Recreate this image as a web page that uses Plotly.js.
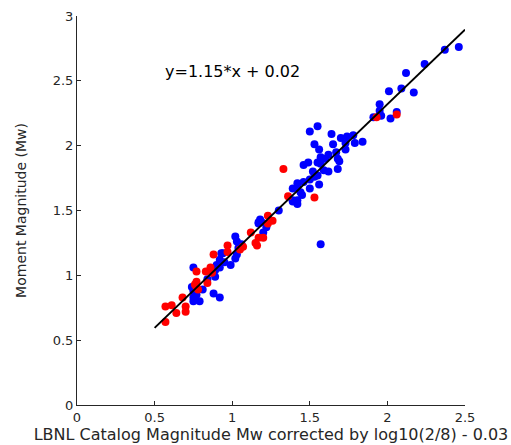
<!DOCTYPE html>
<html>
<head>
<meta charset="utf-8">
<script src="https://cdn.plot.ly/plotly-3.0.1.min.js"></script>
<style>html,body{margin:0;padding:0;background:#fff;}#chart{width:511px;height:445px;}</style>
</head>
<body>
<div id="chart"></div>
<script>
// Blue series
const blueX = [2.46,2.37,2.24,2.12,2.01,2.09,2.17,1.95,1.95,1.91,2.02,2.06,1.96,
  1.55,1.50,1.64,1.70,1.74,1.78,1.84,1.79,1.73,1.65,1.53,1.73,1.67,1.56,1.62,1.57,1.68,1.60,1.57,1.69,1.68,1.62,1.55,1.49,1.46,1.59,1.52,1.55,1.50,1.53,1.46,1.42,1.56,1.50,1.42,1.44,1.39,1.39,1.45,1.42,1.39,1.42,1.30,1.57,
  1.19,1.17,1.20,1.22,1.18,1.17,1.02,1.03,1.05,1.04,1.03,0.93,0.94,0.92,0.95,0.90,0.99,0.89,0.75,0.92,0.89,0.84,0.81,0.74,0.77,0.75,0.79,0.75,0.88,0.92,0.75,1.02,1.06];
const blueY = [2.76,2.74,2.63,2.56,2.42,2.44,2.41,2.32,2.27,2.22,2.21,2.26,2.23,
  2.15,2.11,2.09,2.06,2.07,2.08,2.03,2.02,2.02,2.01,2.01,1.97,1.95,1.97,1.93,1.91,1.90,1.90,1.86,1.88,1.82,1.80,1.87,1.87,1.85,1.81,1.80,1.77,1.74,1.76,1.72,1.71,1.70,1.67,1.68,1.64,1.67,1.58,1.62,1.58,1.57,1.55,1.50,1.24,
  1.41,1.41,1.33,1.37,1.43,1.40,1.30,1.26,1.23,1.21,1.16,1.17,1.17,1.12,1.10,1.08,1.08,1.04,1.06,1.06,0.99,0.97,0.89,0.91,0.85,0.83,0.80,0.80,0.86,0.83,0.88,1.13,1.24];
// Red series
const redX = [2.06,1.93,1.33,1.36,1.53,1.23,1.26,1.20,1.23,1.12,1.17,1.15,1.16,0.97,0.97,1.05,1.07,0.88,0.86,0.87,0.77,0.83,0.76,0.77,0.84,0.78,0.68,0.70,0.61,0.57,0.64,0.70,0.57,0.77];
const redY = [2.24,2.22,1.82,1.61,1.60,1.46,1.42,1.29,1.40,1.33,1.29,1.25,1.23,1.23,1.18,1.20,1.22,1.16,1.06,1.02,1.03,1.03,0.93,0.91,0.94,0.89,0.83,0.76,0.77,0.76,0.71,0.72,0.64,0.95];
// Fit line
const slope = 1.15, intercept = 0.02;
const fitX = [0.5, 2.5];
const fitY = fitX.map(v => slope * v + intercept);
const xTicks = [0, 0.5, 1, 1.5, 2, 2.5];
const yTicks = [0, 0.5, 1, 1.5, 2, 2.5, 3];

const font = "DejaVu Sans, sans-serif";
const traces = [
  {x: blueX, y: blueY, mode: 'markers', type: 'scatter', marker: {color: '#0000ff', size: 8}, hoverinfo: 'none'},
  {x: redX, y: redY, mode: 'markers', type: 'scatter', marker: {color: '#ff0000', size: 8}, hoverinfo: 'none'},
  {x: fitX, y: fitY, mode: 'lines', type: 'scatter', line: {color: '#000000', width: 2}, hoverinfo: 'none'}
];
const layout = {
  width: 511, height: 445,
  margin: {l: 77, r: 46, t: 16, b: 40},
  paper_bgcolor: '#ffffff', plot_bgcolor: '#ffffff',
  showlegend: false,
  font: {family: font, color: '#262626', size: 13},
  xaxis: {
    range: [0, 2.5], tickvals: xTicks, ticktext: xTicks.map(String),
    showgrid: false, zeroline: false, showline: true, linecolor: '#262626', linewidth: 1,
    ticks: 'inside', ticklen: 4, tickcolor: '#262626',
    tickfont: {family: font, size: 13, color: '#262626'},
    title: {text: 'LBNL Catalog Magnitude Mw corrected by log10(2/8) - 0.03', font: {family: font, size: 16, color: '#262626'}, standoff: 2}
  },
  yaxis: {
    range: [0, 3], tickvals: yTicks, ticktext: yTicks.map(String),
    showgrid: false, zeroline: false, showline: true, linecolor: '#262626', linewidth: 1,
    ticks: 'inside', ticklen: 4, tickcolor: '#262626',
    tickfont: {family: font, size: 13, color: '#262626'},
    title: {text: 'Moment Magnitude (Mw)', font: {family: font, size: 14, color: '#262626'}, standoff: 22}
  },
  annotations: [{
    x: 0.555, y: 2.57, xref: 'x', yref: 'y', xanchor: 'left', yanchor: 'middle',
    text: 'y=1.15*x + 0.02', showarrow: false, font: {family: font, size: 16, color: '#000000'}
  }]
};
Plotly.newPlot('chart', traces, layout, {staticPlot: true, displayModeBar: false});
</script>
</body>
</html>
